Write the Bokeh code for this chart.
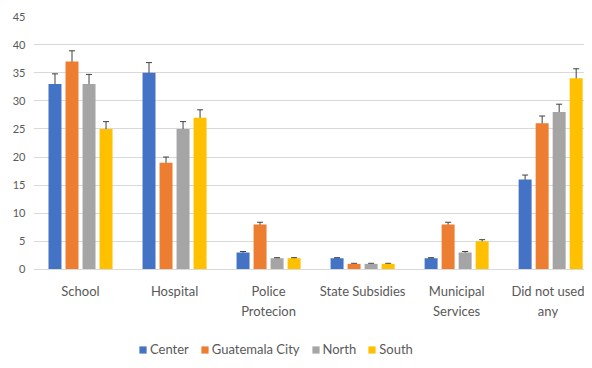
from bokeh.plotting import figure
from bokeh.models import (ColumnDataSource, Whisker, TeeHead, FixedTicker, Range1d,
                          Legend, LegendItem)
from bokeh.embed import file_html
from bokeh.resources import INLINE

categories = ["School", "Hospital", "Police\nProtecion", "State Subsidies",
              "Municipal\nServices", "Did not used\nany"]
series = ["Center", "Guatemala City", "North", "South"]
colors = ["#4472C4", "#ED7D31", "#A5A5A5", "#FFC000"]

center = [33, 35, 3, 2, 2, 16]
guatemala_city = [37, 19, 8, 1, 8, 26]
north = [33, 25, 2, 1, 3, 28]
south = [25, 27, 2, 1, 5, 34]

center_err = [1.8, 1.8, 0.2, 0.1, 0.1, 0.8]
guatemala_city_err = [1.9, 1.0, 0.4, 0.1, 0.4, 1.3]
north_err = [1.7, 1.3, 0.1, 0.1, 0.2, 1.4]
south_err = [1.3, 1.4, 0.1, 0.1, 0.3, 1.7]

y_ticks = [0, 5, 10, 15, 20, 25, 30, 35, 40, 45]

values = [center, guatemala_city, north, south]
errors = [center_err, guatemala_city_err, north_err, south_err]

FONT = "Lato"
TXT = "#595959"

p = figure(frame_width=551, frame_height=344, output_backend="svg",
           toolbar_location=None,
           x_range=Range1d(-0.5, 5.36), y_range=Range1d(-16.19, 45),
           min_border_left=33, min_border_right=0, min_border_top=16,
           min_border_bottom=0)
p.outline_line_color = None

step = 0.181
width = 0.138
items = []
for k, (name, col, vals, errs) in enumerate(zip(series, colors, values, errors)):
    off = (k - 1.5) * step
    xs = [i + off for i in range(len(categories))]
    src = ColumnDataSource(dict(x=xs, top=vals,
                                upper=[v + e for v, e in zip(vals, errs)],
                                lower=[v - e for v, e in zip(vals, errs)]))
    r = p.vbar(x="x", top="top", width=width, bottom=0, source=src,
               fill_color=col, line_color=None)
    items.append(LegendItem(label=name, renderers=[r]))
    w = Whisker(base="x", upper="upper", lower="lower", source=src,
                dimension="height", line_color="#404040", line_width=1,
                upper_head=TeeHead(size=6, line_color="#404040", line_width=1),
                lower_head=TeeHead(size=6, line_color="#404040", line_width=1))
    p.add_layout(w)

# axes
p.xaxis.fixed_location = 0
p.xaxis.ticker = FixedTicker(ticks=list(range(len(categories))))
p.xaxis.major_label_overrides = {i: c for i, c in enumerate(categories)}
p.xaxis.major_tick_line_color = None
p.xaxis.major_tick_out = 0
p.xaxis.major_tick_in = 0
p.xaxis.minor_tick_line_color = None
p.xaxis.axis_line_color = "#d9d9d9"
p.xaxis.major_label_text_font = FONT
p.xaxis.major_label_text_font_size = "13px"
p.xaxis.major_label_text_color = TXT
p.xaxis.major_label_standoff = 14

p.yaxis.ticker = FixedTicker(ticks=y_ticks)
p.yaxis.axis_line_color = None
p.yaxis.major_tick_line_color = None
p.yaxis.major_tick_out = 0
p.yaxis.major_tick_in = 0
p.yaxis.minor_tick_line_color = None
p.yaxis.major_label_text_font = FONT
p.yaxis.major_label_text_font_size = "11px"
p.yaxis.major_label_text_color = TXT
p.yaxis.major_label_standoff = 8

p.xgrid.grid_line_color = None
p.ygrid.grid_line_color = "#d9d9d9"
p.ygrid.grid_line_width = 1

legend = Legend(items=items, orientation="horizontal", location=(105, 3),
                label_text_font=FONT, label_text_font_size="13px",
                label_text_color=TXT, glyph_width=9, glyph_height=9,
                label_standoff=3, spacing=11, padding=3, margin=0,
                border_line_color=None, background_fill_alpha=0)
p.add_layout(legend, "center")

open("out.html", "w").write(file_html(p, INLINE))
